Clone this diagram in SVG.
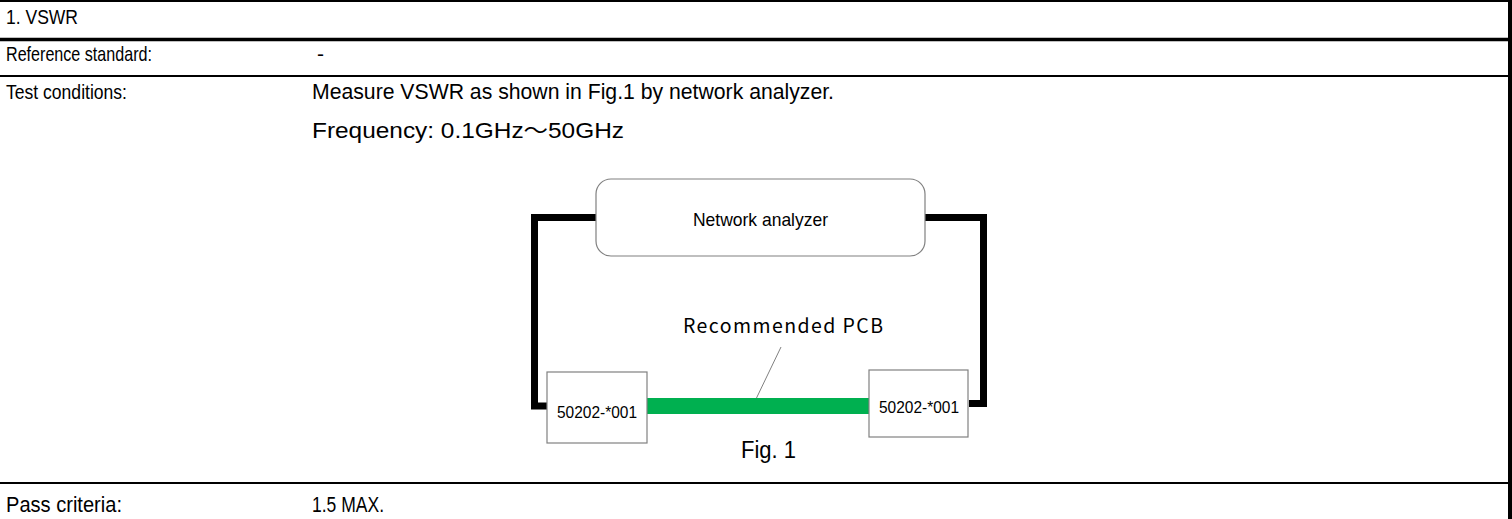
<svg xmlns="http://www.w3.org/2000/svg" width="1512" height="519" viewBox="0 0 1512 519">
<style>
.t{font-family:"Liberation Sans",Arial,sans-serif;font-size:21px;fill:#000}
.v{font-family:"Liberation Sans",Arial,sans-serif;font-size:22px;fill:#000}
.b{fill:#fff;stroke:#808080;stroke-width:1.2}
.c{fill:none;stroke:#000;stroke-width:7;stroke-linejoin:miter}
.lbl{font-family:"Liberation Sans",Arial,sans-serif;font-size:16px;fill:#000;text-anchor:middle}
.cjk{font-family:"Noto Sans CJK JP",sans-serif}
</style>
<rect width="1512" height="519" fill="#fff"/>
<g id="table">
<line x1="0" y1="1" x2="1512" y2="1" stroke="#000" stroke-width="2"/>
<line x1="0" y1="39.5" x2="1512" y2="39.5" stroke="#000" stroke-width="3.5"/>
<line x1="0" y1="76" x2="1512" y2="76" stroke="#000" stroke-width="2"/>
<line x1="0" y1="483" x2="1512" y2="483" stroke="#000" stroke-width="2"/>
<line x1="1510" y1="0" x2="1510" y2="519" stroke="#000" stroke-width="4"/>
<text class="t" x="6" y="24" textLength="72" lengthAdjust="spacingAndGlyphs">1. VSWR</text>
<text class="t" x="6" y="61" textLength="146" lengthAdjust="spacingAndGlyphs">Reference standard:</text>
<text class="t" x="317" y="61">-</text>
<text class="t" x="6" y="99" textLength="121" lengthAdjust="spacingAndGlyphs">Test conditions:</text>
<text class="v" x="312" y="99" textLength="522" lengthAdjust="spacingAndGlyphs">Measure VSWR as shown in Fig.1 by network analyzer.</text>
<text class="v" x="312" y="138" textLength="312" lengthAdjust="spacingAndGlyphs">Frequency: 0.1GHz<tspan class="cjk">～</tspan>50GHz</text>
<text class="v" x="6" y="512" textLength="116" lengthAdjust="spacingAndGlyphs">Pass criteria:</text>
<text class="v" x="312" y="512" textLength="72" lengthAdjust="spacingAndGlyphs">1.5 MAX.</text>
</g>
<g id="connectors">
<polyline class="c" points="596,217.5 534.5,217.5 534.5,406 547,406"/>
<polyline class="c" points="925,217.5 983.5,217.5 983.5,403.5 969,403.5"/>
<rect x="647" y="398" width="222" height="16" fill="#00b050"/>
<line x1="781" y1="347" x2="756.5" y2="398" stroke="#808080" stroke-width="1"/>
</g>
<g id="network-analyzer">
<rect class="b" x="596" y="179" width="329" height="77" rx="15"/>
<text class="lbl" x="760.5" y="226" style="font-size:19px" textLength="135" lengthAdjust="spacingAndGlyphs">Network analyzer</text>
</g>
<g id="connector-left">
<rect class="b" x="547" y="372" width="100" height="71"/>
<text class="lbl" x="597" y="418" textLength="80" lengthAdjust="spacingAndGlyphs">50202-*001</text>
</g>
<g id="connector-right">
<rect class="b" x="869" y="370" width="99" height="67"/>
<text class="lbl" x="919" y="413" textLength="80" lengthAdjust="spacingAndGlyphs">50202-*001</text>
</g>
<g id="pcb-label">
<text x="783" y="333" style="font-family:'Noto Sans CJK JP','Noto Sans',sans-serif;font-size:19.5px;text-anchor:middle" textLength="200" lengthAdjust="spacing">Recommended PCB</text>
</g>
<text class="t" x="768.5" y="458" style="text-anchor:middle;font-size:23px" textLength="55" lengthAdjust="spacingAndGlyphs">Fig. 1</text>
</svg>
